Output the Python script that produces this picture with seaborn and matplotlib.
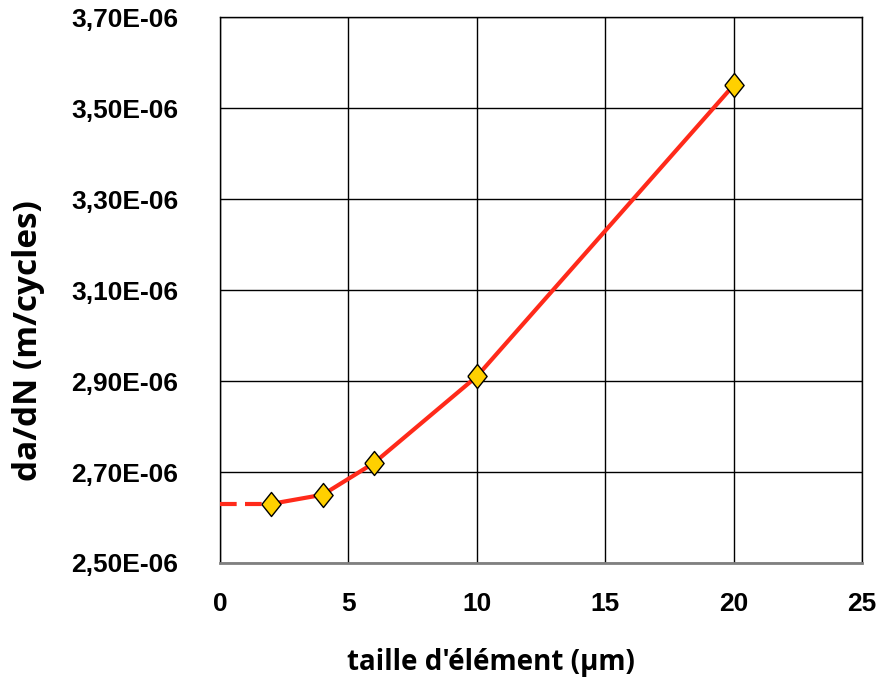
import numpy as np
import pandas as pd
import matplotlib
matplotlib.use("Agg")
import matplotlib.pyplot as plt
from matplotlib import font_manager
import seaborn as sns

# taille d'élément (µm) vs da/dN (m/cycles)
taille = [2, 4, 6, 10, 20]
dadn = [2.63e-06, 2.65e-06, 2.72e-06, 2.91e-06, 3.55e-06]
# extrapolation vers taille 0 (pointillés)
taille_extra = [0, 2]
dadn_extra = [2.63e-06, 2.63e-06]

y_ticks = [2.5e-06, 2.7e-06, 2.9e-06, 3.1e-06, 3.3e-06, 3.5e-06, 3.7e-06]
y_labels = ["2,50E-06", "2,70E-06", "2,90E-06", "3,10E-06", "3,30E-06", "3,50E-06", "3,70E-06"]
x_ticks = [0, 5, 10, 15, 20, 25]

df = pd.DataFrame({"taille": taille, "dadn": dadn})
df_extra = pd.DataFrame({"taille": taille_extra, "dadn": dadn_extra})

sns.set_style("white")
plt.rcParams['font.family'] = ['Liberation Sans', 'DejaVu Sans']
plt.rcParams['text.color'] = 'black'
plt.rcParams['axes.labelcolor'] = 'black'

# police étroite pour les graduations si dispo
tick_family = "Liberation Sans"
tick_size = 19
try:
    font_manager.findfont(font_manager.FontProperties(family="Liberation Sans Narrow", weight="bold"),
                          fallback_to_default=False)
    tick_family = "Liberation Sans Narrow"
    tick_size = 21
except Exception:
    pass

fig = plt.figure(figsize=(8.82, 6.82), dpi=100)
ax = fig.add_axes([0.2494, 0.1745, 0.7279, 0.8005])

red = "#ff2a1a"
sns.lineplot(data=df_extra, x="taille", y="dadn", ax=ax, color=red,
             linewidth=3, zorder=3)
ax.lines[-1].set_dashes([4, 2])
sns.lineplot(data=df, x="taille", y="dadn", ax=ax, color=red, linewidth=3, zorder=3)

diamond = [(-0.8, 0), (0, 1), (0.8, 0), (0, -1), (-0.8, 0)]
sns.scatterplot(data=df, x="taille", y="dadn", ax=ax, marker=diamond, s=300,
                color="#ffd000", edgecolor="black", linewidth=1, zorder=4)

ax.set_xlim(0, 25)
ax.set_ylim(2.5e-06, 3.7e-06)
ax.set_xticks(x_ticks)
ax.set_yticks(y_ticks)
ax.set_yticklabels(y_labels)
ax.grid(True, color="black", linewidth=1)
ax.set_axisbelow(True)

for side in ["top", "right", "left"]:
    ax.spines[side].set_visible(True)
    ax.spines[side].set_color("black")
    ax.spines[side].set_linewidth(1)
ax.spines["bottom"].set_color("#808080")
ax.spines["bottom"].set_linewidth(2)

ax.tick_params(axis="both", which="major", direction="out", length=7, width=1,
               color="black", labelcolor="black", labelsize=tick_size)
ax.tick_params(axis="x", pad=14)
ax.tick_params(axis="y", pad=23)
for lbl in ax.get_xticklabels() + ax.get_yticklabels():
    lbl.set_fontweight("bold")
    lbl.set_family(tick_family)

ax.set_xlabel("taille d'élément (μm)", fontsize=20, fontweight="bold",
              color="black", family=["Open Sans", "DejaVu Sans"])
ax.set_ylabel("da/dN (m/cycles)", fontsize=24, fontweight="bold",
              color="black", family=["Open Sans", "DejaVu Sans"])
ax.xaxis.label.set_va("center")
ax.yaxis.label.set_va("center")
ax.xaxis.set_label_coords(0.422, -0.182)
ax.yaxis.set_label_coords(-0.299, 0.408)

fig.savefig("out.png", dpi=100, facecolor="white")
